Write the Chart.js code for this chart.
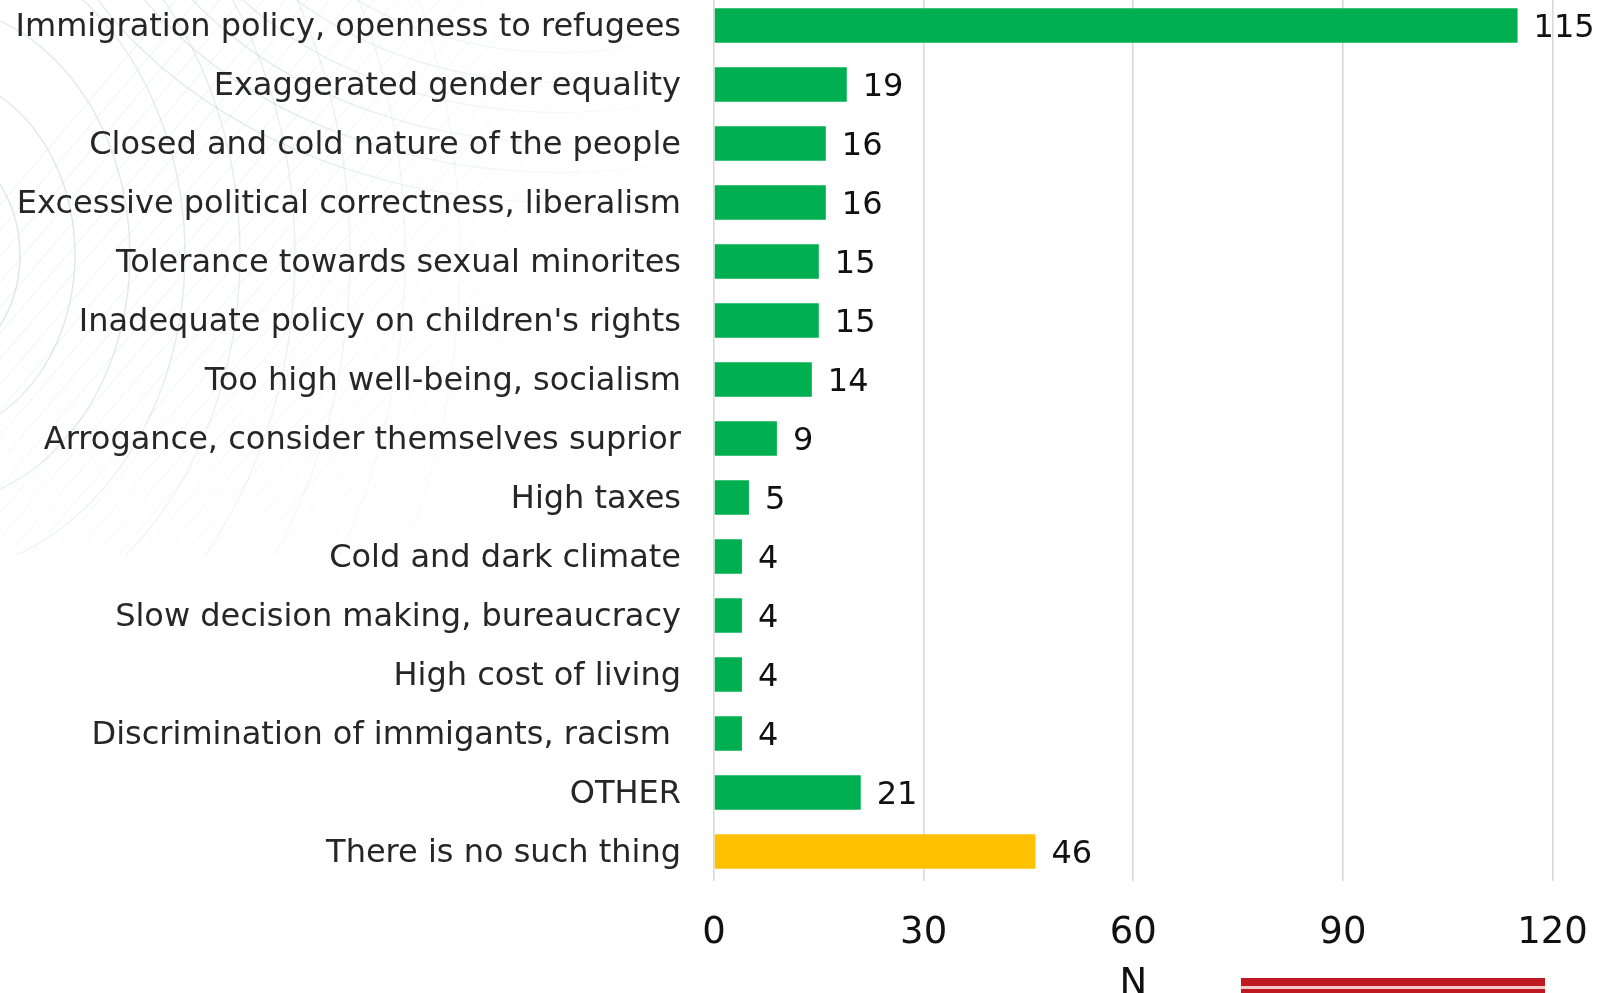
<!DOCTYPE html>
<html>
<head>
<meta charset="utf-8">
<script src="https://cdn.jsdelivr.net/npm/chart.js@4.4.1/dist/chart.umd.min.js"></script>
<style>
  html, body { margin: 0; padding: 0; background: #ffffff; overflow: hidden; }
  body { width: 1614px; height: 993px; position: relative; }
  #wrap { position: absolute; left: 0; top: -5px; width: 1614px; height: 1010px; }
  .stripe { position: absolute; left: 1241px; width: 304px; }
</style>
</head>
<body>
<div id="wrap"><canvas id="c" width="1614" height="1010"></canvas></div>
<div class="stripe" style="top:978px;height:8px;background:#be1a24;"></div>
<div class="stripe" style="top:986px;height:3px;background:#f3c9cb;"></div>
<div class="stripe" style="top:989px;height:6px;background:#be1a24;"></div>
<script>
const categories = [
  "Immigration policy, openness to refugees",
  "Exaggerated gender equality",
  "Closed and cold nature of the people",
  "Excessive political correctness, liberalism",
  "Tolerance towards sexual minorites",
  "Inadequate policy on children's rights",
  "Too high well-being, socialism",
  "Arrogance, consider themselves suprior",
  "High taxes",
  "Cold and dark climate",
  "Slow decision making, bureaucracy",
  "High cost of living",
  "Discrimination of immigants, racism ",
  "OTHER",
  "There is no such thing"
];
const values = [115, 19, 16, 16, 15, 15, 14, 9, 5, 4, 4, 4, 4, 21, 46];
const xTicks = [0, 30, 60, 90, 120];
const axisTitle = "N";

const GREEN = "#00b050";
const YELLOW = "#ffc000";

const backdrop = {
  id: "backdrop",
  beforeDraw(chart) {
    const ctx = chart.ctx;
    ctx.save();
    ctx.beginPath();
    ctx.rect(0, 0, 720, 560);
    ctx.clip();
    ctx.lineWidth = 1.4;
    for (let i = 0; i < 9; i++) {
      const rx = 90 + i * 55;
      const a = 0.45 - i * 0.03;
      ctx.strokeStyle = "rgba(185,196,210," + a + ")";
      ctx.beginPath();
      ctx.ellipse(-70, 260, rx, rx * 1.25, 0, 0, Math.PI * 2);
      ctx.stroke();
    }
    for (let i = 0; i < 6; i++) {
      const r = 330 + i * 40;
      ctx.strokeStyle = "rgba(185,196,210,0.35)";
      ctx.beginPath();
      ctx.ellipse(560, -190, r, r * 0.75, 0, 0, Math.PI * 2);
      ctx.stroke();
    }
    ctx.strokeStyle = "rgba(195,204,216,0.28)";
    ctx.lineWidth = 1;
    for (let k = 0; k < 40; k++) {
      const x0 = -300 + k * 22;
      ctx.beginPath();
      ctx.moveTo(x0, 560);
      ctx.lineTo(x0 + 480, 0);
      ctx.stroke();
    }
    ctx.restore();
    ctx.save();
    const g = ctx.createRadialGradient(60, 140, 220, 60, 140, 660);
    g.addColorStop(0, "rgba(255,255,255,0)");
    g.addColorStop(1, "rgba(255,255,255,1)");
    ctx.fillStyle = g;
    ctx.fillRect(0, 0, 720, 560);
    ctx.restore();
  }
};

const valueLabels = {
  id: "valueLabels",
  afterDatasetsDraw(chart) {
    const ctx = chart.ctx;
    const meta = chart.getDatasetMeta(0);
    const ds = chart.data.datasets[0];
    ctx.save();
    ctx.font = "32px 'DejaVu Sans'";
    ctx.fillStyle = "#111111";
    ctx.textAlign = "left";
    ctx.textBaseline = "middle";
    meta.data.forEach((bar, i) => {
      ctx.fillText(String(ds.data[i]), bar.x + 16, bar.y + 3);
    });
    ctx.restore();
  }
};

new Chart(document.getElementById("c"), {
  type: "bar",
  data: {
    labels: categories,
    datasets: [{
      data: values,
      backgroundColor: (c) => (c.index === categories.length - 1 ? YELLOW : GREEN),
      borderWidth: 0,
      categoryPercentage: 1.0,
      barPercentage: 0.585
    }]
  },
  options: {
    indexAxis: "y",
    responsive: false,
    animation: false,
    devicePixelRatio: 1,
    layout: { padding: { top: 1, right: 61.5, bottom: 0, left: 0 } },
    plugins: { legend: { display: false }, tooltip: { enabled: false } },
    scales: {
      x: {
        type: "linear",
        position: "bottom",
        min: 0,
        max: 120,
        afterBuildTicks: (s) => { s.ticks = xTicks.map(v => ({ value: v })); },
        afterFit: (s) => { s.height = 124; s.paddingLeft = 0; s.paddingRight = 0; },
        grid: { color: "#d9d9d9", lineWidth: 1.6, drawTicks: false },
        border: { display: false },
        ticks: {
          padding: 30,
          color: "#111111",
          font: { family: "'DejaVu Sans'", size: 37 },
          maxRotation: 0
        },
        title: {
          display: true,
          text: axisTitle,
          color: "#111111",
          font: { family: "'DejaVu Sans'", size: 37 },
          padding: { top: 0, bottom: -2 }
        }
      },
      y: {
        type: "category",
        afterFit: (s) => { s.width = 714; s.paddingTop = 0; s.paddingBottom = 0; },
        grid: { display: false, drawTicks: false },
        border: { display: false },
        ticks: {
          padding: 33,
          labelOffset: 2,
          color: "#262626",
          font: { family: "'DejaVu Sans'", size: 32 },
          autoSkip: false
        }
      }
    }
  },
  plugins: [backdrop, valueLabels]
});
</script>
</body>
</html>
